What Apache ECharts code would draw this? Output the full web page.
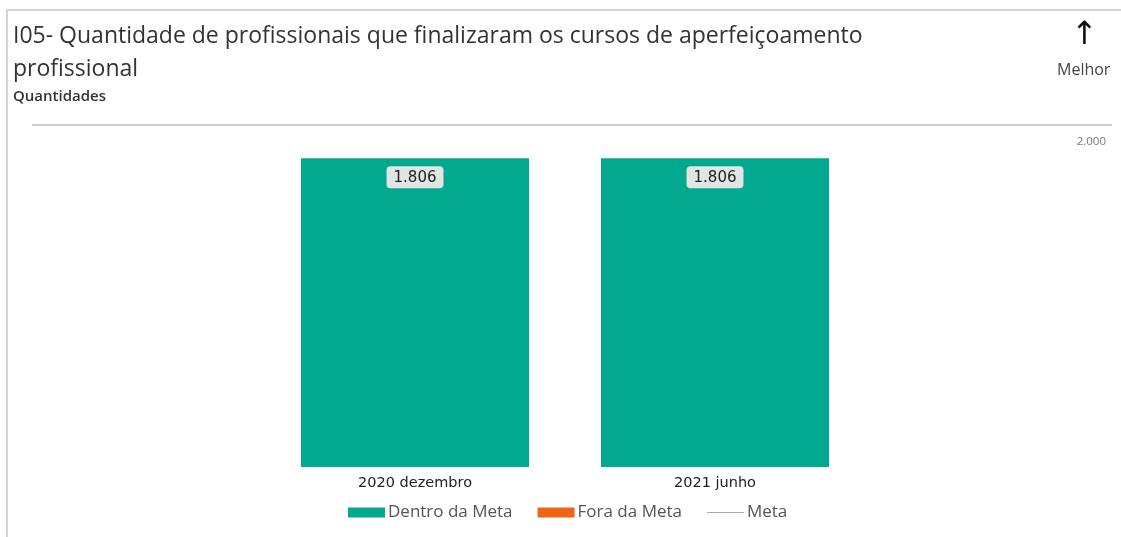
<!DOCTYPE html>
<html>
<head>
<meta charset="utf-8">
<script src="https://cdn.jsdelivr.net/npm/echarts@6/dist/echarts.min.js"></script>
<style>
  html, body { margin: 0; padding: 0; background: #fff; }
  #chart { width: 1121px; height: 537px; }
</style>
</head>
<body>
<div id="chart"></div>
<script>
// dados
const categories = ['2020 dezembro', '2021 junho'];
const dentroDaMeta = [1806, 1806];
const foraDaMeta = [0, 0];
const meta = [2000, 2000];
const yMax = 2000;

// 1806 -> 1.806
function fmt(v) {
  return String(v).replace(/\B(?=(\d{3})+(?!\d))/g, '.');
}

const chart = echarts.init(document.getElementById('chart'));

const option = {
  backgroundColor: '#fff',
  animation: false,
  title: {
    left: 8,
    top: 15,
    text: 'I05- Quantidade de profissionais que finalizaram os cursos de aperfeiçoamento\nprofissional',
    subtext: 'Quantidades',
    itemGap: 1,
    textStyle: {
      fontFamily: 'Open Sans',
      fontSize: 23,
      fontWeight: 'normal',
      color: '#333',
      lineHeight: 33
    },
    subtextStyle: {
      fontFamily: 'Open Sans',
      fontSize: 15,
      fontWeight: 600,
      color: '#333',
      lineHeight: 20
    }
  },
  graphic: [
    // moldura do cartão
    {
      type: 'rect',
      shape: { x: 7, y: 10, width: 1200, height: 600 },
      style: { fill: 'none', stroke: '#d4d4d4', lineWidth: 2 },
      silent: true
    },
    {
      type: 'text',
      left: 1071,
      top: 20,
      style: { text: '↑', font: '32px "DejaVu Sans"', fill: '#111' }
    },
    {
      type: 'text',
      left: 1057,
      top: 62,
      style: { text: 'Melhor', font: '16px "Open Sans"', fill: '#444' }
    }
  ],
  legend: {
    bottom: 11,
    left: 343,
    itemWidth: 37,
    itemHeight: 10,
    itemGap: 25,
    textStyle: { fontFamily: 'Open Sans', fontSize: 17, color: '#555', padding: [0, 0, 0, -2] },
    data: [
      { name: 'Dentro da Meta', icon: 'rect' },
      { name: 'Fora da Meta', icon: 'rect' },
      { name: 'Meta', icon: 'path://M0,0 L37,0 L37,1.1 L0,1.1 Z' }
    ]
  },
  grid: [
    { left: 265, right: 256, top: 125, bottom: 70 },
    { left: 32, right: 9, top: 125, bottom: 70 }
  ],
  xAxis: [
    {
      type: 'category',
      gridIndex: 0,
      data: categories,
      axisLine: { show: false },
      axisTick: { show: false },
      axisLabel: { fontFamily: 'DejaVu Sans', fontSize: 14.5, color: '#222', margin: 9 }
    },
    {
      type: 'category',
      gridIndex: 1,
      data: categories,
      boundaryGap: false,
      show: false
    }
  ],
  yAxis: [
    { type: 'value', gridIndex: 0, min: 0, max: yMax, show: false },
    { type: 'value', gridIndex: 1, min: 0, max: yMax, show: false }
  ],
  series: [
    {
      name: 'Dentro da Meta',
      type: 'bar',
      stack: 'total',
      xAxisIndex: 0,
      yAxisIndex: 0,
      data: dentroDaMeta,
      barWidth: '76%',
      itemStyle: { color: '#03a98e' },
      label: {
        show: true,
        position: 'insideTop',
        distance: 8,
        formatter: p => fmt(p.value),
        fontFamily: 'DejaVu Sans',
        fontSize: 15,
        color: '#222',
        backgroundColor: '#dfe6e3',
        borderRadius: 4,
        padding: [4, 7, 3, 7]
      }
    },
    {
      name: 'Fora da Meta',
      type: 'bar',
      stack: 'total',
      xAxisIndex: 0,
      yAxisIndex: 0,
      data: foraDaMeta,
      itemStyle: { color: '#f06418' }
    },
    {
      name: 'Meta',
      type: 'line',
      xAxisIndex: 1,
      yAxisIndex: 1,
      data: meta,
      symbol: 'none',
      lineStyle: { color: '#cdcdcd', width: 2 },
      itemStyle: { color: '#aaaaaa' },
      label: { show: false },
      endLabel: {
        show: true,
        formatter: p => fmt(p.value),
        fontFamily: 'Open Sans',
        fontSize: 11.5,
        color: '#777',
        align: 'right',
        verticalAlign: 'top',
        offset: [-14, 11]
      }
    }
  ]
};

chart.setOption(option);
</script>
</body>
</html>
